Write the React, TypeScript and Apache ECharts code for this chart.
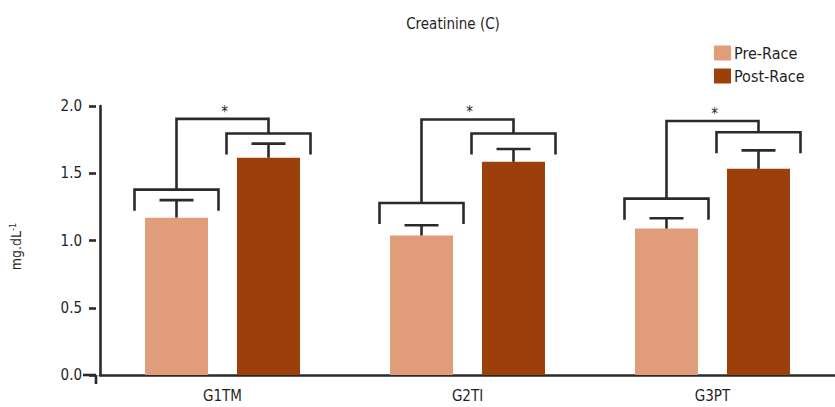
import React, { useEffect, useRef } from "react";
import * as echarts from "echarts";

const categories = ["G1TM", "G2TI", "G3PT"];
const preRace = [1.17, 1.037, 1.089];
const postRace = [1.615, 1.585, 1.533];
const preErrTop = [1.3, 1.113, 1.165];
const postErrTop = [1.72, 1.68, 1.67];
const preBracket = [1.378, 1.279, 1.311];
const postBracket = [1.795, 1.795, 1.805];
const topBracket = [1.904, 1.9, 1.889];
const yTicks = [0, 0.5, 1.0, 1.5, 2.0];

const FONT = "'DejaVu Sans Condensed', 'Liberation Sans Narrow', 'Open Sans', sans-serif";
const PRE = "#E19C7A";
const POST = "#9D3F0B";
const INK = "#2a2a2a";
const TXT = "#1f1f1f";
const BAR_W = 63;
const OFFSET = 46;
const CAP = 17;
const BR_HALF = 42;
const LEG = 21;

export default function App() {
  const ref = useRef<HTMLDivElement>(null);
  useEffect(() => {
    const chart = echarts.init(ref.current!, null, { renderer: "svg" });
    const errData = (vals: number[], tops: number[]) =>
      categories.map((_, i) => [i, vals[i], tops[i]]);
    const errRender = (off: number) => (params: any, api: any) => {
      const c = api.coord([api.value(0), api.value(1)]);
      const t = api.coord([api.value(0), api.value(2)]);
      const x = c[0] + off;
      const st = { stroke: INK, lineWidth: 2.6 };
      return {
        type: "group",
        children: [
          { type: "line", shape: { x1: x, y1: c[1], x2: x, y2: t[1] }, style: st },
          { type: "line", shape: { x1: x - CAP, y1: t[1], x2: x + CAP, y2: t[1] }, style: st },
        ],
      };
    };
    const bracketRender = (params: any, api: any) => {
      const i = api.value(0);
      const p = api.coord([i, api.value(1)]);
      const q = api.coord([i, api.value(2)]);
      const t = api.coord([i, api.value(3)]);
      const cx = p[0];
      const xp = cx - OFFSET;
      const xq = cx + OFFSET;
      const st = { stroke: INK, lineWidth: 2.6, fill: "none" };
      return {
        type: "group",
        children: [
          {
            type: "polyline",
            shape: { points: [[xp - BR_HALF, p[1] + LEG], [xp - BR_HALF, p[1]], [xp + BR_HALF, p[1]], [xp + BR_HALF, p[1] + LEG]] },
            style: st,
          },
          {
            type: "polyline",
            shape: { points: [[xq - BR_HALF, q[1] + LEG], [xq - BR_HALF, q[1]], [xq + BR_HALF, q[1]], [xq + BR_HALF, q[1] + LEG]] },
            style: st,
          },
          {
            type: "polyline",
            shape: { points: [[xp, p[1]], [xp, t[1]], [xq, t[1]], [xq, q[1]]] },
            style: st,
          },
          {
            type: "text",
            style: {
              x: cx + 2,
              y: t[1] - 7,
              text: "*",
              fontSize: 15,
              fontFamily: FONT,
              fill: TXT,
              align: "center",
              verticalAlign: "middle",
            },
          },
        ],
      };
    };
    chart.setOption({
      animation: false,
      textStyle: { fontFamily: FONT },
      title: {
        text: "Creatinine (C)",
        left: 453,
        textAlign: "center",
        top: 16,
        padding: 0,
        textStyle: { fontFamily: FONT, fontSize: 15, fontWeight: "normal", color: TXT },
      },
      legend: {
        data: ["Pre-Race", "Post-Race"],
        orient: "vertical",
        left: 714,
        top: 45,
        padding: 0,
        itemWidth: 17,
        itemHeight: 15,
        itemGap: 7,
        icon: "rect",
        textStyle: { fontFamily: FONT, fontSize: 16, color: TXT, padding: [0, 0, 0, -2] },
      },
      grid: { left: 96, right: 0, top: 106, bottom: 32 },
      xAxis: {
        type: "category",
        data: categories,
        axisLine: { lineStyle: { color: INK, width: 2.6 } },
        axisTick: { alignWithLabel: true, length: 8, lineStyle: { color: INK, width: 2.6 } },
        axisLabel: { fontFamily: FONT, fontSize: 15, color: TXT, margin: 13 },
      },
      yAxis: [
        {
          type: "value",
          min: 0,
          max: 2,
          interval: 0.5,
          axisLine: { show: true, lineStyle: { color: INK, width: 2.6 } },
          axisTick: { show: false },
          axisLabel: { show: false },
          splitLine: { show: false },
          name: "mg.dL{sup|-1}",
          nameLocation: "middle",
          nameGap: 77,
          nameRotate: 90,
          nameTextStyle: {
            fontFamily: FONT,
            fontSize: 14,
            color: TXT,
            padding: [0, 12, 0, 0],
            rich: { sup: { fontSize: 9, verticalAlign: "top", padding: [0, 0, 6, 0], fontFamily: FONT, color: TXT } },
          },
        },
        {
          type: "value",
          min: 0,
          max: 2,
          interval: 0.5,
          position: "left",
          offset: 4,
          axisLine: { show: false },
          axisTick: { show: true, length: 7, lineStyle: { color: INK, width: 2.6 } },
          axisLabel: {
            fontFamily: FONT,
            fontSize: 15,
            color: TXT,
            margin: 14,
            formatter: (v: number) => (yTicks.includes(v) ? v.toFixed(1) : ""),
          },
          splitLine: { show: false },
        },
      ],
      series: [
        {
          name: "Pre-Race",
          type: "bar",
          data: preRace,
          barWidth: BAR_W,
          barGap: "46%",
          itemStyle: { color: PRE },
        },
        {
          name: "Post-Race",
          type: "bar",
          data: postRace,
          barWidth: BAR_W,
          barGap: "46%",
          itemStyle: { color: POST },
        },
        { type: "custom", renderItem: errRender(-OFFSET), data: errData(preRace, preErrTop), clip: false, z: 5 },
        { type: "custom", renderItem: errRender(OFFSET), data: errData(postRace, postErrTop), clip: false, z: 5 },
        {
          type: "custom",
          renderItem: bracketRender,
          data: categories.map((_, i) => [i, preBracket[i], postBracket[i], topBracket[i]]),
          clip: false,
          z: 5,
        },
      ],
    });
    const o = chart.convertToPixel({ gridIndex: 0 }, [0, 0]) as number[];
    const ax = 96;
    chart.setOption({
      graphic: [
        { type: "line", shape: { x1: ax - 13, y1: o[1], x2: ax, y2: o[1] }, style: { stroke: INK, lineWidth: 2.6 } },
        { type: "line", shape: { x1: ax, y1: o[1], x2: ax, y2: o[1] + 9 }, style: { stroke: INK, lineWidth: 2.6 } },
      ],
    });
    return () => chart.dispose();
  }, []);
  return <div ref={ref} style={{ width: 835, height: 407, position: "absolute", left: 0, top: 0 }} />;
}
